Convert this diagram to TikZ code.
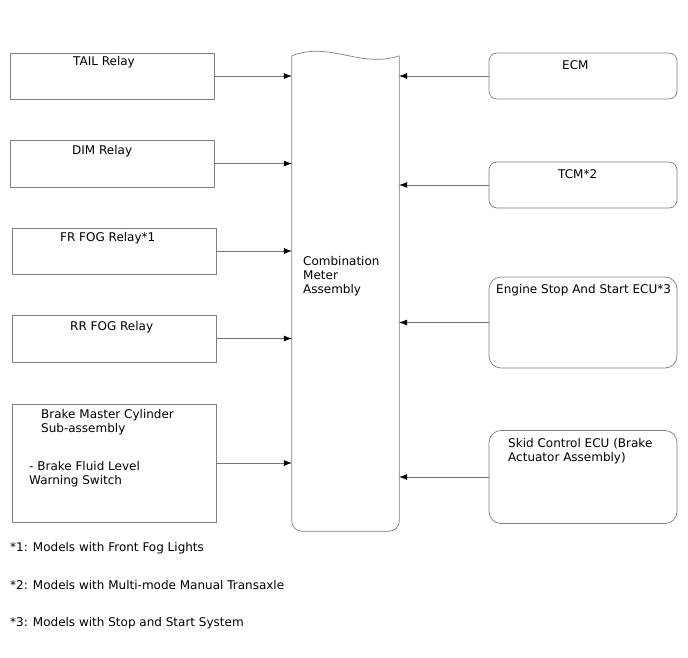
\documentclass[tikz,border=0pt]{standalone}
\usepackage{fontspec}
\setmainfont{DejaVu Sans}
\usetikzlibrary{calc,positioning,arrows.meta}
\definecolor{EDGEGRAY}{HTML}{7F7F7F}

\begin{document}
\begin{tikzpicture}[x=1pt, y=-1pt,
  lbox/.style={draw=EDGEGRAY, line width=0.7pt, fill=white, rectangle, inner sep=0pt,
    minimum width=204pt},
  rbox/.style={draw=EDGEGRAY, line width=0.7pt, fill=white, rectangle, rounded corners=8pt, inner sep=0pt,
    minimum width=188pt},
  txt/.style={font=\fontsize{12}{14}\selectfont, inner sep=0pt, anchor=west, align=left},
  arr/.style={black!55, line width=0.6pt, arrows={-{Latex[length=8pt,width=6pt,black]}}}
]
\useasboundingbox (0,0) rectangle (688,658);

% central unit
\node[minimum width=107pt, minimum height=475pt, inner sep=0pt] (meter) at (345.5,293.5) {};
\draw[EDGEGRAY, line width=0.7pt, rounded corners=10pt]
  (meter.north west) -- (meter.south west) -- (meter.south east) -- (meter.north east);
\draw[EDGEGRAY, line width=0.7pt]
  (meter.north east) .. controls ($(meter.north east)+(-39,13)$) and ($(meter.north west)+(38,-15)$) .. (meter.north west);
\node[txt] (metertxt) at (303,276) {Combination\\Meter\\Assembly};

% left side
\node[lbox, minimum height=46pt] (tail)  at (112,76)    {};
\node[lbox, minimum height=47pt] (dim)   at (112,163.5) {};
\node[lbox, minimum height=46pt] (frfog) at (114,251)   {};
\node[lbox, minimum height=47pt] (rrfog) at (114,338.5) {};
\node[lbox, minimum height=118pt] (brake) at (114,463)  {};

\node[txt] at (73,62)  {TAIL Relay};
\node[txt] at (72,151) {DIM Relay};
\node[txt] at (60,238) {FR FOG Relay*1};
\node[txt] at (70,327) {RR FOG Relay};
\node[txt] at (41,422) {Brake Master Cylinder\\Sub-assembly};
\node[txt] at (29,474) {- Brake Fluid Level\\Warning Switch};

% right side
\node[rbox, minimum height=46pt] (ecm)  at (583,76)  {};
\node[rbox, minimum height=46pt] (tcm)  at (583,185) {};
\node[rbox, minimum height=91pt, rounded corners=12pt] (essecu) at (583,322.5) {};
\node[rbox, minimum height=93pt, rounded corners=12pt] (skid)   at (583,477)   {};

\node[txt] at (562,65)  {ECM};
\node[txt] at (558,174) {TCM*2};
\node[txt] at (496,290) {Engine Stop And Start ECU*3};
\node[txt] at (508,451) {Skid Control ECU (Brake\\Actuator Assembly)};

\draw[arr] (tail.east)  -- (tail.east -| meter.west);
\draw[arr] (dim.east)   -- (dim.east -| meter.west);
\draw[arr] (frfog.east) -- (frfog.east -| meter.west);
\draw[arr] (rrfog.east) -- (rrfog.east -| meter.west);
\draw[arr] (brake.east) -- (brake.east -| meter.west);

\draw[arr] (ecm.west)    -- (ecm.west -| meter.east);
\draw[arr] (tcm.west)    -- (tcm.west -| meter.east);
\draw[arr] (essecu.west) -- (essecu.west -| meter.east);
\draw[arr] (skid.west)   -- (skid.west -| meter.east);

% notes
\node[txt] (note1) at (10,548) {*1: Models with Front Fog Lights};
\node[txt] (note2) at (10,585) {*2: Models with Multi-mode Manual Transaxle};
\node[txt] (note3) at (10,623) {*3: Models with Stop and Start System};
\end{tikzpicture}
\end{document}
